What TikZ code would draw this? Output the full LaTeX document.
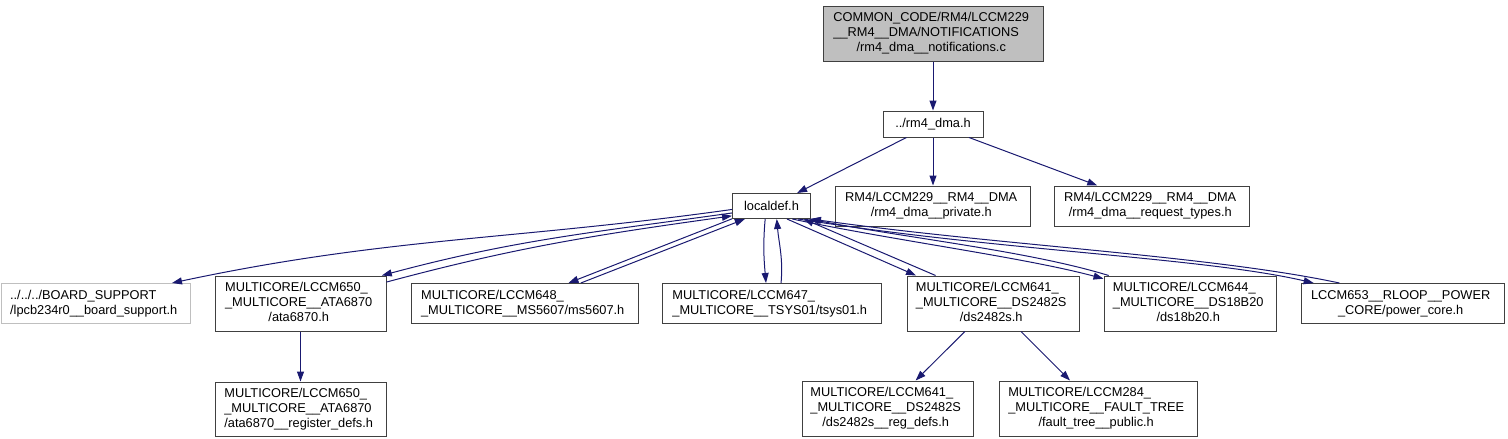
\documentclass[tikz,border=0pt]{standalone}
\usepackage{fontspec}
\setmainfont{Liberation Sans}
\usepackage{xcolor}
\usepackage{tikz}
\usetikzlibrary{arrows.meta, positioning}

\definecolor{edgeblue}{RGB}{25,25,112}
\definecolor{grey75}{RGB}{191,191,191}

% label lines: all but the last one flush left, the last one centred
\newcommand{\ltwo}[2]{\begin{tabular}{@{}c@{}}\multicolumn{1}{@{}l@{}}{#1}\\#2\end{tabular}}
\newcommand{\lthree}[3]{\begin{tabular}{@{}c@{}}\multicolumn{1}{@{}l@{}}{#1}\\\multicolumn{1}{@{}l@{}}{#2}\\#3\end{tabular}}

\begin{document}
\begin{tikzpicture}[
            x=1pt, y=1pt,
            node distance=24pt,
            file/.style={
                rectangle,
                draw=black!75,
                line width=1pt,
                fill=white,
                inner sep=0pt,
                align=center,
                font=\fontsize{12.8}{15}\selectfont
            },
            filecur/.style={
                file,
                fill=grey75
            },
            fileext/.style={
                file,
                draw=grey75
            },
            line/.style={
                draw=edgeblue,
                line width=1pt,
                -{Triangle[length=10pt, width=7pt]}
            }
        ]
            \useasboundingbox (0,0) rectangle (1508,-439);

            % --- NODES: TOP ---
            \node [filecur, minimum width=220pt, minimum height=55pt] (notif) at (933,-33.5) {
                \lthree{COMMON\_CODE/RM4/LCCM229}{\_\_RM4\_\_DMA/NOTIFICATIONS}{/rm4\_dma\_\_notifications.c}
            };

            \node [file, below=49pt of notif, minimum width=100pt, minimum height=26pt] (dma) {../rm4\_dma.h};

            \node [file, below=48pt of dma, minimum width=195pt, minimum height=40pt] (private) {
                \ltwo{RM4/LCCM229\_\_RM4\_\_DMA}{/rm4\_dma\_\_private.h}
            };

            \node [file, left=24pt of private, minimum width=78pt, minimum height=25pt] (localdef) {localdef.h};

            \node [file, right=23pt of private, minimum width=195pt, minimum height=40pt] (request) {
                \ltwo{RM4/LCCM229\_\_RM4\_\_DMA}{/rm4\_dma\_\_request\_types.h}
            };

            % --- NODES: SECOND ROW ---
            \node [file, below=64pt of localdef, minimum width=219pt, minimum height=40pt] (tsys) {
                \ltwo{MULTICORE/LCCM647\_}{\_MULTICORE\_\_TSYS01/tsys01.h}
            };

            \node [file, left=23pt of tsys, minimum width=227pt, minimum height=40pt] (ms) {
                \ltwo{MULTICORE/LCCM648\_}{\_MULTICORE\_\_MS5607/ms5607.h}
            };

            \node [file, left=of ms, minimum width=171pt, minimum height=55pt] (ata) {
                \lthree{MULTICORE/LCCM650\_}{\_MULTICORE\_\_ATA6870}{/ata6870.h}
            };

            \node [fileext, left=of ata, minimum width=189pt, minimum height=40pt] (board) {
                \ltwo{../../../BOARD\_SUPPORT}{/lpcb234r0\_\_board\_support.h}
            };

            \node [file, right=25pt of tsys, minimum width=172pt, minimum height=55pt] (dsmain) {
                \lthree{MULTICORE/LCCM641\_}{\_MULTICORE\_\_DS2482S}{/ds2482s.h}
            };

            \node [file, right=of dsmain, minimum width=172pt, minimum height=55pt] (dstemp) {
                \lthree{MULTICORE/LCCM644\_}{\_MULTICORE\_\_DS18B20}{/ds18b20.h}
            };

            \node [file, right=of dstemp, minimum width=203pt, minimum height=40pt] (power) {
                \ltwo{LCCM653\_\_RLOOP\_\_POWER}{\_CORE/power\_core.h}
            };

            % --- NODES: BOTTOM ROW ---
            \node [file, below=50pt of ata, minimum width=171pt, minimum height=54pt] (atareg) {
                \lthree{MULTICORE/LCCM650\_}{\_MULTICORE\_\_ATA6870}{/ata6870\_\_register\_defs.h}
            };

            \node [file, below=49pt of dsmain, xshift=-105.5pt, minimum width=171pt, minimum height=55pt] (dsreg) {
                \lthree{MULTICORE/LCCM641\_}{\_MULTICORE\_\_DS2482S}{/ds2482s\_\_reg\_defs.h}
            };

            \node [file, right=25pt of dsreg, minimum width=198pt, minimum height=55pt] (fault) {
                \lthree{MULTICORE/LCCM284\_}{\_MULTICORE\_\_FAULT\_TREE}{/fault\_tree\_\_public.h}
            };

            % --- LINKS ---
            \path [line] (notif) -- (dma);
            \path [line] (dma) -- (localdef);
            \path [line] (dma) -- (private);
            \path [line] (dma) -- (request);

            \path [line] (localdef.185) to[out=188, in=12] (board.15);

            \path [line] (localdef.190) to[out=188, in=15] (ata.19);
            \path [line] (ata.14) to[out=15, in=188] (localdef.194);

            \path [line] (localdef.198) -- (ms.25);
            \path [line] (ms.20) -- (localdef.206);

            \path [line] (localdef.244) to[out=265, in=95] (tsys.105);
            \path [line] (tsys.65) to[out=85, in=275] (localdef.292);

            \path [line] (localdef.320) -- (dsmain.160);
            \path [line] (dsmain.154) -- (localdef.338);

            \path [line] (localdef.328) to[out=-12, in=165, out distance=102pt, in distance=83pt] (dstemp.164);
            \path [line] (dstemp.161) to[out=163, in=-11, out distance=84pt, in distance=102pt] (localdef.341);

            \path [line] (localdef.334) to[out=-9, in=167, out distance=205pt, in distance=115pt] (power.167);
            \path [line] (power.162) to[out=168, in=-8, out distance=133pt, in distance=190pt] (localdef.south east);

            \path [line] (ata) -- (atareg);
            \path [line] (dsmain) -- (dsreg);
            \path [line] (dsmain) -- (fault);
        \end{tikzpicture}
\end{document}
